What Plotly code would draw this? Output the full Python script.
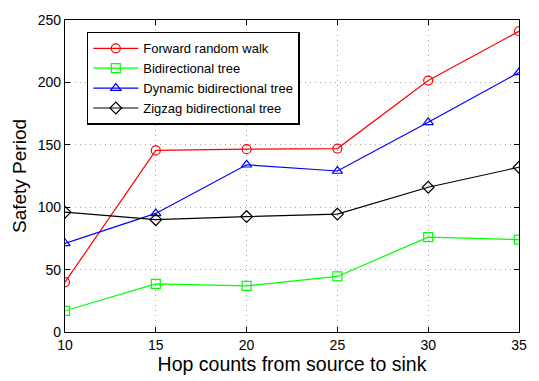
import plotly.graph_objects as go

hops = [10, 15, 20, 25, 30, 35]
forward_random_walk = [40, 145.5, 146.5, 147, 201.5, 241]
bidirectional_tree = [17, 38.5, 37, 44.5, 76, 74]
dynamic_bidirectional = [71, 95, 134, 129, 168, 208]
zigzag_bidirectional = [96, 90, 92.5, 94.5, 116, 132]

series = [
    ("Forward random walk", forward_random_walk, "#ff0000", "circle-open"),
    ("Bidirectional tree", bidirectional_tree, "#00ff00", "square-open"),
    ("Dynamic bidirectional tree", dynamic_bidirectional, "#0000ff", "triangle-up-open"),
    ("Zigzag bidirectional tree", zigzag_bidirectional, "#000000", "diamond-open"),
]

fig = go.Figure()
for name, vals, color, sym in series:
    fig.add_trace(go.Scatter(
        x=hops, y=vals, name=name, mode="lines+markers",
        line=dict(color=color, width=1.2),
        marker=dict(symbol=sym, size=9, color=color, line=dict(width=1.2, color=color)),
    ))

axis_common = dict(
    showline=True, linecolor="black", linewidth=1.2, mirror="ticks",
    ticks="inside", ticklen=5, tickcolor="black",
    showgrid=True, gridcolor="#a8a8a8", griddash="1px,4px", gridwidth=1,
    zeroline=False, tickfont=dict(size=14, color="black"),
)

fig.update_layout(
    width=539, height=381,
    margin=dict(l=65, r=18, t=12, b=48),
    paper_bgcolor="white", plot_bgcolor="white",
    font=dict(family="Liberation Sans, Arial, sans-serif", color="black"),
    xaxis=dict(range=[10, 35], tickvals=[10, 15, 20, 25, 30, 35],
               title=dict(text="Hop counts from source to sink", font=dict(size=19.5), standoff=2),
               **axis_common),
    yaxis=dict(range=[0, 250], tickvals=[0, 50, 100, 150, 200, 250],
               title=dict(text="Safety Period", font=dict(size=19), standoff=6),
               **axis_common),
    legend=dict(x=0.048, y=0.962, xanchor="left", yanchor="top",
                bordercolor="black", borderwidth=1.5, bgcolor="white",
                font=dict(size=13), tracegroupgap=0, itemwidth=45),
    showlegend=True,
)

fig.write_html("out.html", config={"displayModeBar": False},
               post_script="document.body.style.margin='0';")
